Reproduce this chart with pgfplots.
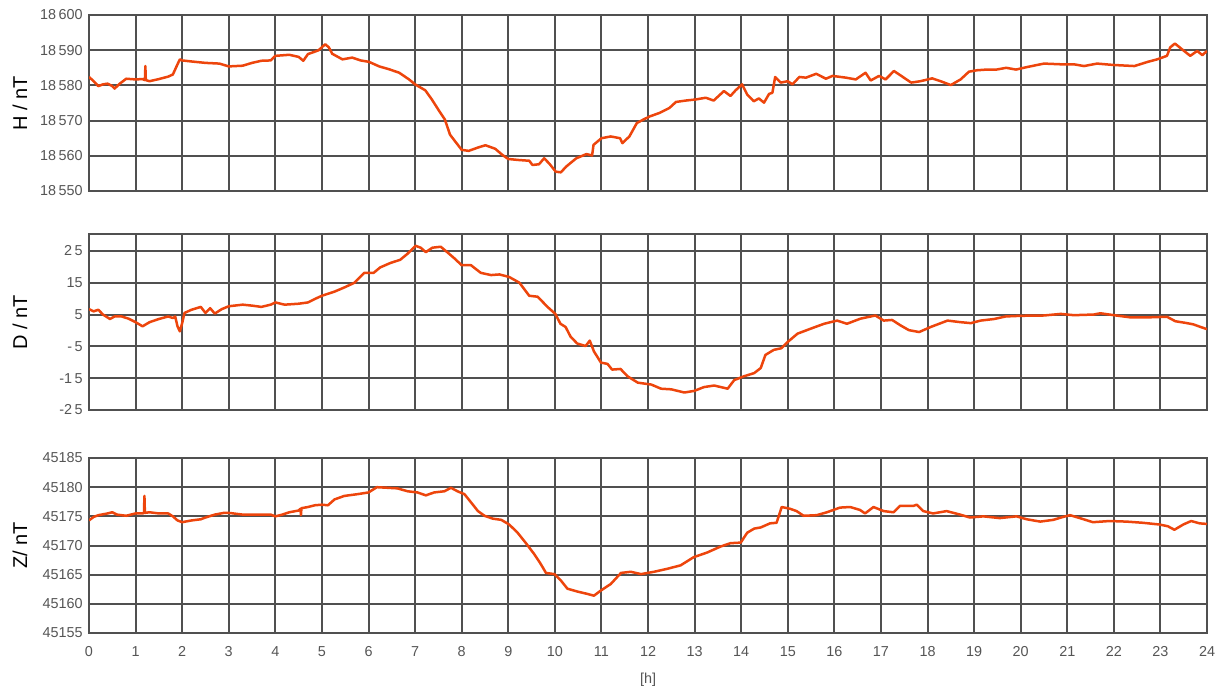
\documentclass[border=0pt]{standalone}
\usepackage{pgfplots}
\pgfplotsset{compat=1.18}
\usepackage{fontspec}
\setmainfont{Liberation Sans}
\definecolor{gridgray}{RGB}{80,80,80}
\definecolor{txtgray}{RGB}{85,85,85}
\definecolor{lineor}{RGB}{237,69,12}

\pgfplotstableread{
h v
0 18582.4
0.1 18581.2
0.2 18579.8
0.3 18580.3
0.4 18580.5
0.5 18579.8
0.55 18579.1
0.65 18580.4
0.8 18581.9
1.0 18581.7
1.15 18581.8
1.2 18581.5
1.21 18585.5
1.22 18581.5
1.3 18581.2
1.5 18581.8
1.7 18582.5
1.8 18583.1
1.9 18586.0
1.95 18587.4
2.0 18587.1
2.2 18586.8
2.5 18586.4
2.8 18586.2
3.0 18585.4
3.3 18585.6
3.5 18586.4
3.7 18587.0
3.9 18587.1
4.0 18588.4
4.3 18588.7
4.5 18588.1
4.6 18587.0
4.7 18588.9
4.85 18589.6
4.93 18590.0
5.07 18591.7
5.15 18590.8
5.22 18589.0
5.44 18587.4
5.65 18587.9
5.83 18587.1
6.01 18586.7
6.23 18585.4
6.44 18584.6
6.66 18583.6
6.87 18581.7
7.0 18580.3
7.22 18578.6
7.36 18576.0
7.5 18573.1
7.64 18570.3
7.75 18566.0
7.86 18564.1
8.0 18561.7
8.15 18561.4
8.36 18562.4
8.51 18563.0
8.72 18562.0
8.87 18560.3
9.0 18559.1
9.23 18558.8
9.45 18558.6
9.52 18557.4
9.66 18557.6
9.77 18559.3
9.88 18557.8
10.02 18555.5
10.13 18555.3
10.24 18556.9
10.46 18559.3
10.68 18560.5
10.8 18560.1
10.83 18563.1
11.0 18565.0
11.2 18565.5
11.4 18565.0
11.45 18563.6
11.6 18565.5
11.76 18569.3
11.9 18570.3
12.04 18571.2
12.25 18572.2
12.46 18573.6
12.6 18575.3
12.81 18575.7
13.02 18576.0
13.24 18576.5
13.41 18575.7
13.63 18578.4
13.77 18577.0
13.88 18578.6
14.02 18580.3
14.13 18577.4
14.27 18575.5
14.38 18576.3
14.49 18575.1
14.6 18577.6
14.67 18577.9
14.73 18582.4
14.85 18580.8
15.0 18581.2
15.1 18580.3
15.25 18582.4
15.39 18582.2
15.61 18583.3
15.82 18581.9
15.96 18582.7
16.25 18582.2
16.46 18581.7
16.67 18583.6
16.78 18581.4
16.96 18582.7
17.1 18581.7
17.28 18584.1
17.47 18582.4
17.65 18580.8
17.85 18581.2
18.1 18582.0
18.28 18581.2
18.5 18580.1
18.71 18581.7
18.89 18583.9
19.06 18584.3
19.27 18584.5
19.48 18584.5
19.69 18585.0
19.9 18584.5
20.13 18585.2
20.5 18586.2
20.86 18586.0
21.14 18586.0
21.36 18585.5
21.64 18586.2
22.0 18585.8
22.44 18585.5
22.73 18586.7
22.93 18587.4
23.14 18588.4
23.21 18590.8
23.31 18591.9
23.46 18590.3
23.64 18588.4
23.79 18589.8
23.9 18588.6
24.0 18589.8
}\tabH

\pgfplotstableread{
h v
0 6.7
0.1 6.0
0.2 6.5
0.3 5.0
0.45 3.6
0.55 4.4
0.7 4.4
0.85 3.7
1.0 2.6
1.15 1.3
1.3 2.6
1.5 3.6
1.7 4.4
1.8 3.9
1.85 4.4
1.9 1.3
1.95 -0.3
2.0 2.3
2.05 5.5
2.2 6.5
2.4 7.4
2.5 5.5
2.6 7.0
2.7 5.3
2.85 6.7
3.0 7.6
3.3 8.1
3.5 7.8
3.7 7.4
3.9 8.1
4.0 8.8
4.2 8.1
4.5 8.4
4.7 8.8
4.85 9.9
5.0 10.9
5.27 12.2
5.48 13.5
5.7 15.0
5.91 18.1
6.0 18.1
6.11 18.1
6.25 19.8
6.47 21.2
6.68 22.2
6.83 24.0
7.01 26.6
7.12 26.0
7.23 24.6
7.37 26.0
7.55 26.3
7.69 24.6
7.84 22.7
8.0 20.5
8.2 20.5
8.41 18.1
8.63 17.4
8.81 17.6
9.02 16.8
9.24 15.0
9.45 10.9
9.63 10.6
9.85 7.3
10.01 5.2
10.12 2.1
10.23 1.1
10.34 -2.0
10.48 -4.1
10.66 -4.9
10.75 -3.2
10.84 -6.6
10.99 -10.1
11.13 -10.5
11.23 -12.3
11.41 -12.1
11.56 -14.4
11.78 -16.4
12.07 -17.0
12.28 -18.3
12.5 -18.5
12.78 -19.5
12.99 -19.0
13.2 -17.8
13.42 -17.3
13.71 -18.3
13.85 -15.6
14.06 -14.4
14.28 -13.4
14.42 -11.8
14.52 -7.7
14.7 -6.1
14.86 -5.6
15.0 -3.6
15.21 -1.0
15.5 0.6
15.78 2.1
16.06 3.1
16.27 2.1
16.56 3.7
16.88 4.7
17.06 3.1
17.24 3.3
17.42 1.6
17.6 0.1
17.82 -0.5
18.07 1.1
18.43 3.1
18.71 2.6
18.93 2.3
19.14 3.1
19.43 3.6
19.68 4.4
20.0 4.6
20.5 4.7
20.86 5.2
21.14 4.8
21.57 5.0
21.71 5.4
22.0 4.8
22.36 4.1
22.71 4.1
23.14 4.3
23.32 2.9
23.57 2.3
23.71 1.9
23.86 1.1
24.0 0.4
}\tabD

\pgfplotstableread{
h v
0 45174.3
0.1 45174.9
0.2 45175.2
0.4 45175.5
0.5 45175.7
0.6 45175.3
0.8 45175.1
1.0 45175.5
1.15 45175.5
1.18 45175.6
1.19 45178.5
1.2 45175.6
1.3 45175.7
1.5 45175.5
1.7 45175.5
1.8 45175.0
1.9 45174.3
2.0 45174.0
2.2 45174.3
2.4 45174.5
2.5 45174.8
2.7 45175.3
2.9 45175.6
3.0 45175.6
3.3 45175.3
3.6 45175.3
3.9 45175.3
4.0 45175.0
4.15 45175.3
4.3 45175.7
4.5 45176.0
4.54 45176.3
4.55 45175.2
4.56 45176.4
4.7 45176.6
4.85 45176.9
5.0 45177.0
5.13 45176.9
5.27 45177.9
5.48 45178.5
5.76 45178.8
6.0 45179.1
6.18 45180.0
6.4 45179.9
6.62 45179.8
6.84 45179.3
7.05 45179.1
7.23 45178.6
7.41 45179.1
7.63 45179.3
7.77 45179.9
7.91 45179.3
8.06 45178.8
8.2 45177.4
8.35 45175.9
8.49 45175.1
8.67 45174.6
8.85 45174.4
9.02 45173.6
9.2 45172.2
9.38 45170.4
9.56 45168.5
9.7 45166.8
9.81 45165.3
9.99 45165.1
10.13 45164.0
10.27 45162.6
10.49 45162.1
10.7 45161.7
10.84 45161.4
10.99 45162.3
11.2 45163.4
11.42 45165.3
11.63 45165.5
11.85 45165.1
12.13 45165.5
12.41 45166.0
12.7 45166.6
12.98 45168.0
13.27 45168.8
13.55 45169.8
13.77 45170.4
13.99 45170.5
14.13 45172.2
14.28 45172.9
14.42 45173.1
14.62 45173.8
14.76 45173.9
14.87 45176.6
15.05 45176.3
15.19 45175.9
15.34 45175.1
15.62 45175.2
15.84 45175.7
16.12 45176.5
16.34 45176.6
16.55 45176.1
16.66 45175.5
16.84 45176.6
17.06 45175.9
17.27 45175.7
17.41 45176.8
17.7 45176.8
17.77 45177.0
17.91 45175.9
18.12 45175.5
18.41 45175.9
18.7 45175.3
18.91 45174.8
19.2 45175.0
19.55 45174.7
19.91 45175.0
20.13 45174.5
20.42 45174.1
20.7 45174.4
20.91 45174.9
21.06 45175.2
21.27 45174.7
21.55 45174.0
21.91 45174.2
22.27 45174.1
22.62 45173.9
22.98 45173.6
23.16 45173.3
23.3 45172.7
23.49 45173.6
23.66 45174.2
23.84 45173.8
24.0 45173.7
}\tabZ

\pgfplotsset{
  myaxis/.style={
    scale only axis,
    width=559pt,
    xmin=0, xmax=24,
    xtick={0,1,...,24},
    scaled y ticks=false,
    scaled x ticks=false,
    grid=major,
    major grid style={color=gridgray, line width=1pt},
    axis line style={color=gridgray, line width=1pt},
    major tick length=0pt,
    tick style={draw=none},
    ticklabel style={font=\fontsize{7.2}{8}\selectfont, text=txtgray},
    yticklabel style={anchor=east, inner sep=0pt, xshift=-3pt},
    xticklabel style={anchor=north, inner sep=0pt, yshift=-6.5pt},
    ylabel style={font=\fontsize{8}{9}\selectfont, text=txtgray},
    every axis y label/.style={at={(axis description cs:-0.0617,0.5)}, rotate=90, anchor=center},
    clip=true,
  },
  myline/.style={color=lineor, line width=1.25pt, no marks, line join=round},
}

\begin{document}
\begin{tikzpicture}
\useasboundingbox (0,0) rectangle (612pt,-346.5pt);

\begin{axis}[myaxis, at={(44.5pt,-7.5pt)}, anchor=north west, height=88pt,
  ymin=18550, ymax=18600, ytick={18550,18560,...,18600},
  yticklabels={18\,550,18\,560,18\,570,18\,580,18\,590,18\,600},
  xticklabels={},
  ylabel={H / nT}]
\addplot[myline] table[x=h,y=v] {\tabH};
\end{axis}

\begin{axis}[myaxis, at={(44.5pt,-117pt)}, anchor=north west, height=88pt,
  ymin=-25, ymax=30.3, ytick={-25,-15,-5,5,15,25},
  yticklabels={-2\,5,-1\,5,-\,5,5,15,2\,5},
  xticklabels={},
  ylabel={D / nT}]
\addplot[myline] table[x=h,y=v] {\tabD};
\end{axis}

\begin{axis}[myaxis, at={(44.5pt,-229pt)}, anchor=north west, height=87.5pt,
  ymin=45155, ymax=45185, ytick={45155,45160,...,45185},
  yticklabels={45155,45160,45165,45170,45175,45180,45185},
  xticklabels={0,1,2,3,4,5,6,7,8,9,10,11,12,13,14,15,16,17,18,19,20,21,22,23,24},
  ylabel={Z/ nT},
  xlabel={[h]},
  xlabel style={font=\fontsize{7.2}{8}\selectfont, text=txtgray, at={(axis description cs:0.5,-0.269)}, anchor=center}]
\addplot[myline] table[x=h,y=v] {\tabZ};
\end{axis}
\end{tikzpicture}
\end{document}
